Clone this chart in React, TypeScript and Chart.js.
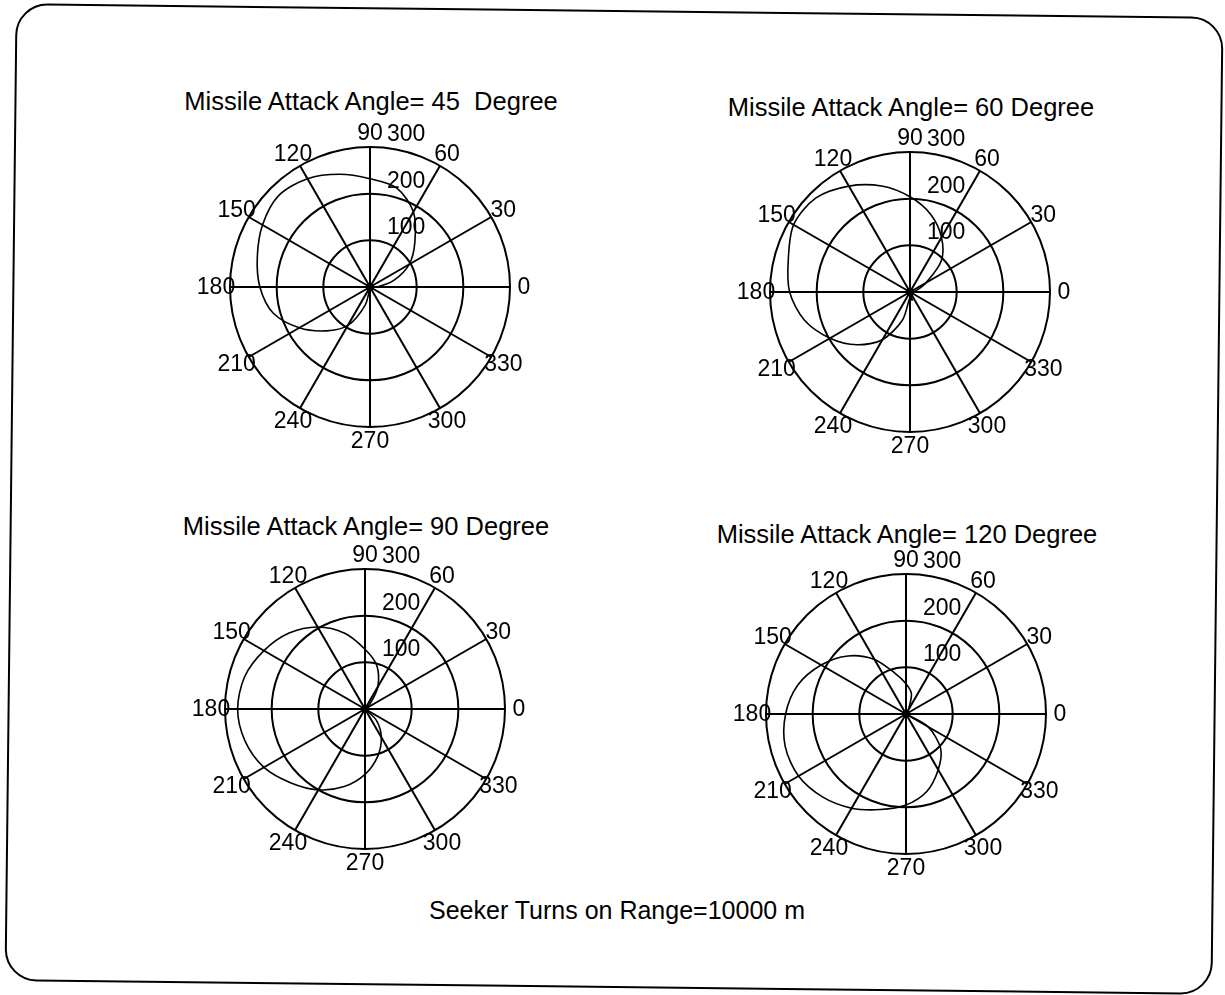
import React, { useEffect, useRef } from "react";
import { Chart, registerables } from "chart.js";

Chart.register(...registerables);

// Polar angles (degrees, counter-clockwise from 0 at the right), 15° apart
const ANGLES = [0, 15, 30, 45, 60, 75, 90, 105, 120, 135, 150, 165, 180, 195, 210, 225, 240, 255, 270, 285, 300, 315, 330, 345];

// Radius values (r axis 0..300)
const R_45 = [15, 52, 97, 136, 186, 220, 232, 250, 268, 277, 266, 250, 236, 215, 175, 133, 95, 40, 0, 0, 0, 0, 0, 0];
const R_60 = [5, 15, 40, 95, 135, 172, 204, 235, 262, 285, 288, 270, 258, 234, 198, 160, 118, 62, 12, 18, 0, 0, 0, 0];
const R_90 = [0, 0, 0, 15, 55, 97, 128, 168, 203, 230, 250, 267, 273, 266, 250, 224, 200, 172, 140, 105, 70, 35, 0, 0];
const R_120 = [0, 0, 0, 0, 10, 45, 65, 90, 135, 176, 210, 240, 258, 268, 266, 252, 233, 212, 195, 172, 138, 105, 55, 0];

const TITLES = [
  "Missile Attack Angle= 45  Degree",
  "Missile Attack Angle= 60 Degree",
  "Missile Attack Angle= 90 Degree",
  "Missile Attack Angle= 120 Degree",
];
const CAPTION = "Seeker Turns on Range=10000 m";

const RING_TICKS = [100, 200, 300];
const R_MAX = 300;
const LABEL_STEP = 30;
const LABEL_RADIUS = 330; // angle labels sit at 1.1 × outer ring

const FONT = '"Liberation Sans", Arial, Helvetica, sans-serif';

const polarText = {
  id: "polarText",
  afterDraw(chart: any) {
    const s = chart.scales.r;
    const ctx = chart.ctx as CanvasRenderingContext2D;
    ctx.save();
    ctx.fillStyle = "#000";
    ctx.font = `23px ${FONT}`;
    ctx.textAlign = "center";
    ctx.textBaseline = "middle";
    (chart.data.labels as string[]).forEach((lab, i) => {
      if (Number(lab) % LABEL_STEP !== 0) return;
      const p = s.getPointPosition(i, s.getDistanceFromCenterForValue(LABEL_RADIUS));
      ctx.fillText(String(lab), p.x, p.y + 1);
    });
    ctx.textAlign = "left";
    ctx.textBaseline = "alphabetic";
    RING_TICKS.forEach((v) => {
      const d = s.getDistanceFromCenterForValue(v);
      ctx.fillText(String(v), s.xCenter + 17, s.yCenter - d - 6);
    });
    ctx.beginPath();
    ctx.arc(s.xCenter, s.yCenter, 4, 0, Math.PI * 2);
    ctx.fill();
    ctx.restore();
  },
};

const SIZE = 360;
const PAD = 40;

function PolarPlot({ values, cx, cy }: { values: number[]; cx: number; cy: number }) {
  const ref = useRef<HTMLCanvasElement>(null);
  useEffect(() => {
    if (!ref.current) return;
    const step = 360 / ANGLES.length;
    // radar runs clockwise from the start angle; list angles in that order
    const order = ANGLES.map((_, i) => (360 - i * step) % 360);
    const chart = new Chart(ref.current, {
      type: "radar",
      data: {
        labels: order.map(String),
        datasets: [
          {
            data: order.map((a) => values[ANGLES.indexOf(a)]),
            borderColor: "#000",
            borderWidth: 1.6,
            pointRadius: 0,
            fill: false,
            tension: 0.3,
          },
        ],
      },
      options: {
        animation: false,
        responsive: false,
        devicePixelRatio: 1,
        layout: { padding: PAD },
        plugins: { legend: { display: false }, tooltip: { enabled: false }, title: { display: false } },
        scales: {
          r: {
            min: 0,
            max: R_MAX,
            startAngle: 90,
            ticks: { display: false, stepSize: 100 },
            grid: { circular: true, color: "#000", lineWidth: 2 },
            angleLines: {
              display: true,
              color: "#000",
              lineWidth: (c: any) => (Number(order[c.index]) % LABEL_STEP === 0 ? 2 : 0),
            },
            pointLabels: { display: false },
          },
        },
      } as any,
      plugins: [polarText],
    });
    return () => chart.destroy();
  }, [values]);
  return (
    <canvas
      ref={ref}
      width={SIZE}
      height={SIZE}
      style={{ position: "absolute", left: cx - SIZE / 2, top: cy - SIZE / 2, width: SIZE, height: SIZE }}
    />
  );
}

const PANELS = [
  { values: R_45, cx: 370, cy: 287, title: TITLES[0], tx: 371, ty: 89 },
  { values: R_60, cx: 910, cy: 292, title: TITLES[1], tx: 911, ty: 95 },
  { values: R_90, cx: 365, cy: 709, title: TITLES[2], tx: 366, ty: 514 },
  { values: R_120, cx: 906, cy: 714, title: TITLES[3], tx: 907, ty: 522 },
];

function Label({ text, x, y, size }: { text: string; x: number; y: number; size: number }) {
  return (
    <div
      style={{
        position: "absolute",
        left: x - 300,
        top: y,
        width: 600,
        textAlign: "center",
        whiteSpace: "pre",
        fontFamily: FONT,
        fontSize: size,
        lineHeight: "25px",
        color: "#000",
      }}
    >
      {text}
    </div>
  );
}

export default function App() {
  return (
    <div
      style={{
        position: "absolute",
        left: 0,
        top: 0,
        width: 1225,
        height: 995,
        overflow: "hidden",
        background: "#fff",
      }}
    >
      <div
        style={{
          position: "absolute",
          left: 10,
          top: 10,
          width: 1208,
          height: 978,
          boxSizing: "border-box",
          border: "2px solid #000",
          borderRadius: 32,
          transform: "rotate(0.65deg)",
        }}
      />
      {PANELS.map((p, i) => (
        <React.Fragment key={i}>
          <Label text={p.title} x={p.tx} y={p.ty} size={25.5} />
          <PolarPlot values={p.values} cx={p.cx} cy={p.cy} />
        </React.Fragment>
      ))}
      <Label text={CAPTION} x={617} y={898} size={25} />
    </div>
  );
}
